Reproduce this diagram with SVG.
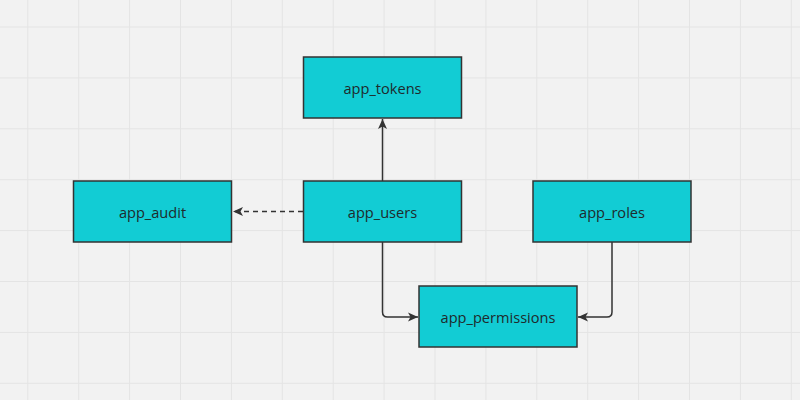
<svg xmlns="http://www.w3.org/2000/svg" width="800" height="400" viewBox="0 0 800 400">
<defs>
<pattern id="grid" x="27.3" y="26.5" width="50.9" height="50.9" patternUnits="userSpaceOnUse">
<path d="M0,0 H50.9 M0,0 V50.9" fill="none" stroke="#e4e4e4" stroke-width="2"/>
</pattern>
<marker id="arr" viewBox="0 0 10 10" refX="10" refY="5" markerWidth="10" markerHeight="10" markerUnits="userSpaceOnUse" orient="auto">
<path d="M0,0.5 L10,5 L0,9.5 L2.5,5 Z" fill="#333"/>
</marker>
</defs>
<style>
.node rect{fill:#12ccd4;stroke:#333;stroke-width:1.5}
.node text{font-family:"Open Sans",sans-serif;font-size:14.6px;fill:#1f2a2c;text-anchor:middle;dominant-baseline:central}
.edge{fill:none;stroke:#333;stroke-width:1.5}
</style>
<rect width="800" height="400" fill="#f2f2f2"/>
<rect width="800" height="400" fill="url(#grid)"/>
<g id="connectors">
<path class="edge" d="M382.5,181 V119" marker-end="url(#arr)"/>
<path class="edge" d="M303,211.5 H233" stroke-dasharray="5,4" marker-end="url(#arr)"/>
<path class="edge" d="M382.5,242 V312 Q382.5,317 387.5,317 H418" marker-end="url(#arr)"/>
<path class="edge" d="M612,242 V312 Q612,317 607,317 H578" marker-end="url(#arr)"/>
</g>
<g id="app_tokens" class="node"><rect x="303.5" y="57" width="158" height="61"/><text x="382.5" y="87.5">app_tokens</text></g>
<g id="app_users" class="node"><rect x="303.5" y="181" width="158" height="61"/><text x="382.5" y="211.5">app_users</text></g>
<g id="app_audit" class="node"><rect x="73.5" y="181" width="158" height="61"/><text x="152.5" y="211.5">app_audit</text></g>
<g id="app_roles" class="node"><rect x="533" y="181" width="158" height="61"/><text x="612" y="211.5">app_roles</text></g>
<g id="app_permissions" class="node"><rect x="419" y="286" width="158" height="61"/><text x="498" y="316.5">app_permissions</text></g>
</svg>
